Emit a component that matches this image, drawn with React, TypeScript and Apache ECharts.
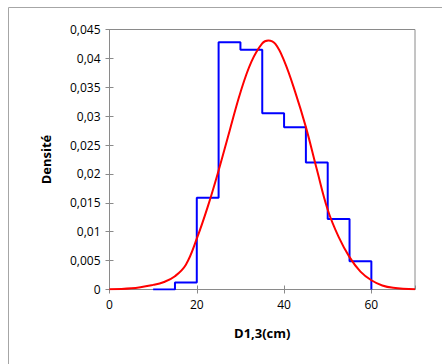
import React, { useEffect, useRef } from "react";
import * as echarts from "echarts";

// Histogram bins (cm) and densities
const binStarts = [10, 15, 20, 25, 30, 35, 40, 45, 50, 55];
const binWidth = 5;
const binDensity = [0, 0.0012, 0.0159, 0.0428, 0.0415, 0.0305, 0.0281, 0.022, 0.0122, 0.0049];

// Fitted normal density curve
const curveX = [0, 5, 10, 12.5, 15, 17.5, 20, 22.5, 25, 27.5, 30, 32.5, 35, 36.4, 38, 40, 42.5, 45, 47.5, 50, 52.5, 55, 57.5, 60, 62.5, 65, 70];
const curveY = [0.00005, 0.0002, 0.0008, 0.0013, 0.0023, 0.0043, 0.0088, 0.0143, 0.0206, 0.0274, 0.0341, 0.0394, 0.0426, 0.0431, 0.0425, 0.0396, 0.0343, 0.0281, 0.0208, 0.0138, 0.0091, 0.0056, 0.0031, 0.0016, 0.0007, 0.0003, 0.00003];

const xTicks = [0, 20, 40, 60];
const yTickStep = 0.005;

export default function App() {
  const ref = useRef<HTMLDivElement>(null);
  useEffect(() => {
    if (!ref.current) return;
    const chart = echarts.init(ref.current, null, { renderer: "svg" });
    const histPts: number[][] = [];
    binStarts.forEach((s, i) => {
      histPts.push([s, binDensity[i]]);
      histPts.push([s + binWidth, binDensity[i]]);
    });
    histPts.push([binStarts[binStarts.length - 1] + binWidth, 0]);
    const curvePts = curveX.map((x, i) => [x, curveY[i]]);
    const font = "'Open Sans', sans-serif";
    const axisGray = "#8a8a8a";
    const xBase = {
      type: "value",
      min: xTicks[0],
      max: 70,
      interval: xTicks[1] - xTicks[0],
      splitLine: { show: false },
    };
    const yBase = {
      type: "value",
      min: 0,
      max: 0.045,
      interval: yTickStep,
      splitLine: { show: false },
    };
    chart.setOption({
      animation: false,
      backgroundColor: "#fff",
      textStyle: { fontFamily: font },
      graphic: [
        {
          type: "rect",
          shape: { x: 8.5, y: 7.5, width: 440, height: 370 },
          style: { fill: "none", stroke: "#a6a6a6", lineWidth: 1 },
          silent: true,
        },
      ],
      grid: {
        left: 109.5,
        top: 29.5,
        right: 27,
        bottom: 74.5,
        show: true,
        borderColor: axisGray,
        borderWidth: 1,
      },
      xAxis: [
        {
          ...xBase,
          name: "D1,3(cm)",
          nameLocation: "middle",
          nameGap: 37,
          nameTextStyle: { fontWeight: "bold", fontSize: 13, color: "#000", fontFamily: font },
          axisLine: { show: true, lineStyle: { color: axisGray, width: 1 } },
          axisTick: { show: true, inside: false, length: 4, lineStyle: { color: axisGray } },
          axisLabel: { color: "#000", fontSize: 12, margin: 9, showMaxLabel: false, fontFamily: font },
        },
        {
          ...xBase,
          position: "bottom",
          axisLine: { show: false },
          axisTick: { show: true, inside: true, length: 4, lineStyle: { color: axisGray } },
          axisLabel: { show: false },
        },
      ],
      yAxis: [
        {
          ...yBase,
          name: "Densité",
          nameLocation: "middle",
          nameGap: 57,
          nameTextStyle: { fontWeight: "bold", fontSize: 13, color: "#000", fontFamily: font },
          axisLine: { show: true, lineStyle: { color: axisGray, width: 1 } },
          axisTick: { show: true, inside: false, length: 4, lineStyle: { color: axisGray } },
          axisLabel: {
            color: "#000",
            fontSize: 12,
            margin: 9,
            fontFamily: font,
            formatter: (v: number) => String(Math.round(v * 1000) / 1000).replace(".", ","),
          },
        },
        {
          ...yBase,
          position: "left",
          axisLine: { show: false },
          axisTick: { show: true, inside: true, length: 4, lineStyle: { color: axisGray } },
          axisLabel: { show: false },
        },
      ],
      series: [
        {
          type: "line",
          data: histPts,
          showSymbol: false,
          lineStyle: { color: "#0000ff", width: 2 },
          itemStyle: { color: "#0000ff" },
          z: 2,
        },
        {
          type: "line",
          data: curvePts,
          smooth: 0.4,
          showSymbol: false,
          lineStyle: { color: "#ff0000", width: 2 },
          itemStyle: { color: "#ff0000" },
          z: 3,
        },
      ],
    });
    return () => chart.dispose();
  }, []);
  return (
    <div
      ref={ref}
      style={{ position: "absolute", left: 0, top: 0, width: 442, height: 364 }}
    />
  );
}
